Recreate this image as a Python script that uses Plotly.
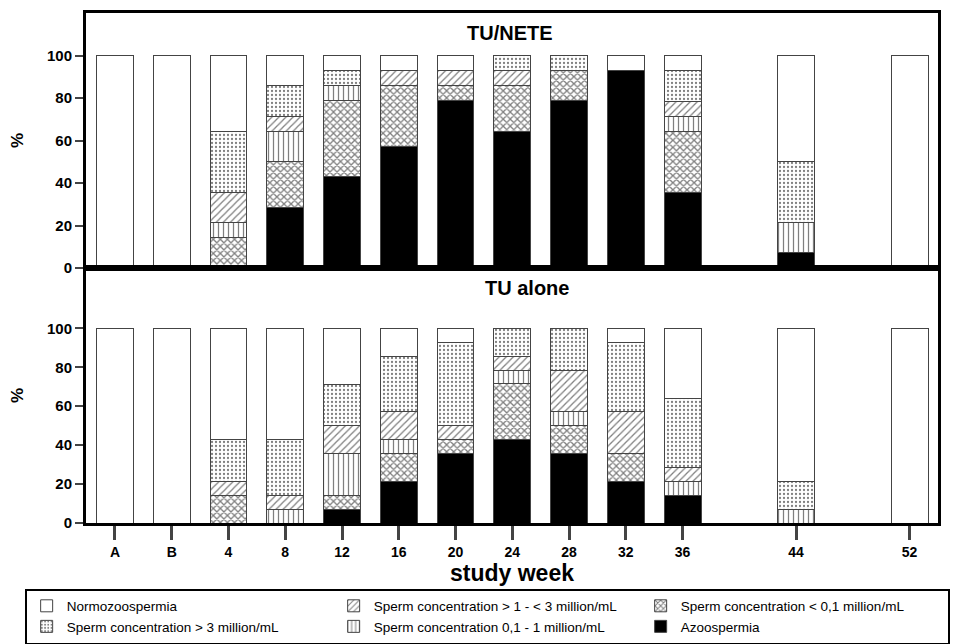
import plotly.graph_objects as go

weeks = ["A", "B", "4", "8", "12", "16", "20", "24", "28", "32", "36", "44", "52"]

# TU/NETE (%)
nete_normo = [100, 100, 35.7, 14.3, 7.1, 7.1, 7.1, 0, 0, 7.1, 7.1, 50.0, 100]
nete_gt3 = [0, 0, 28.6, 14.3, 7.1, 0, 0, 7.1, 7.1, 0, 14.3, 28.6, 0]
nete_1to3 = [0, 0, 14.3, 7.1, 0, 7.1, 7.1, 7.1, 0, 0, 7.1, 0, 0]
nete_01to1 = [0, 0, 7.1, 14.3, 7.1, 0, 0, 0, 0, 0, 7.1, 14.3, 0]
nete_lt01 = [0, 0, 14.3, 21.4, 35.7, 28.6, 7.1, 21.4, 14.3, 0, 28.6, 0, 0]
nete_azoo = [0, 0, 0, 28.6, 42.9, 57.1, 78.6, 64.3, 78.6, 92.9, 35.7, 7.1, 0]

# TU alone (%)
tu_normo = [100, 100, 57.1, 57.1, 28.6, 14.3, 7.1, 0, 0, 7.1, 35.7, 78.6, 100]
tu_gt3 = [0, 0, 21.4, 28.6, 21.4, 28.6, 42.9, 14.3, 21.4, 35.7, 35.7, 14.3, 0]
tu_1to3 = [0, 0, 7.1, 7.1, 14.3, 14.3, 7.1, 7.1, 21.4, 21.4, 7.1, 0, 0]
tu_01to1 = [0, 0, 0, 7.1, 21.4, 7.1, 0, 7.1, 7.1, 0, 7.1, 7.1, 0]
tu_lt01 = [0, 0, 14.3, 0, 7.1, 14.3, 7.1, 28.6, 14.3, 14.3, 0, 0, 0]
tu_azoo = [0, 0, 0, 0, 7.1, 21.4, 35.7, 42.9, 35.7, 21.4, 14.3, 0, 0]

names = {
    "azoo": "Azoospermia",
    "lt01": "Sperm concentration < 0,1 million/mL",
    "01to1": "Sperm concentration 0,1 - 1 million/mL",
    "1to3": "Sperm concentration > 1 - < 3 million/mL",
    "gt3": "Sperm concentration > 3 million/mL",
    "normo": "Normozoospermia",
}


def week_pos(w):
    return {"A": -4, "B": 0}[w] if w in ("A", "B") else int(w)


xpos = [week_pos(w) for w in weeks]

styles = {
    "azoo": dict(color="black", pattern=None, rank=6),
    "lt01": dict(color="white", pattern=dict(shape="x", size=5, solidity=0.45, fgcolor="black", bgcolor="white"), rank=3),
    "01to1": dict(color="white", pattern=dict(shape="|", size=5, solidity=0.25, fgcolor="black", bgcolor="white"), rank=5),
    "1to3": dict(color="white", pattern=dict(shape="/", size=5, solidity=0.25, fgcolor="black", bgcolor="white"), rank=2),
    "gt3": dict(color="white", pattern=dict(shape=".", size=4, solidity=0.25, fgcolor="black", bgcolor="white"), rank=4),
    "normo": dict(color="white", pattern=None, rank=1),
}

order = ["azoo", "lt01", "01to1", "1to3", "gt3", "normo"]
panels = [
    ("x", "y", [nete_azoo, nete_lt01, nete_01to1, nete_1to3, nete_gt3, nete_normo], True),
    ("x2", "y2", [tu_azoo, tu_lt01, tu_01to1, tu_1to3, tu_gt3, tu_normo], False),
]

fig = go.Figure()
for xax, yax, series, showleg in panels:
    for key, data in zip(order, series):
        st = styles[key]
        vals = [v if v > 0 else None for v in data]
        marker = dict(color=st["color"], line=dict(color="#444444", width=1))
        if st["pattern"]:
            marker["pattern"] = st["pattern"]
        fig.add_trace(go.Bar(
            x=xpos, y=vals, name=names[key], marker=marker, width=2.6,
            xaxis=xax, yaxis=yax, showlegend=showleg, legendrank=st["rank"],
        ))

fig.update_layout(
    barmode="stack",
    width=954, height=644,
    margin=dict(l=86, r=16, t=13, b=121, autoexpand=False),
    paper_bgcolor="white", plot_bgcolor="white",
    font=dict(family="Liberation Sans, Arial, sans-serif", color="black"),
    showlegend=True,
    legend=dict(
        orientation="h", x=-0.072, xanchor="left", y=-0.1285, yanchor="top",
        entrywidth=262, entrywidthmode="pixels",
        bordercolor="black", borderwidth=2, font=dict(size=13.5),
        traceorder="normal", tracegroupgap=0,
    ),
)

xr = [-6.04, 54.0]
ytick_font = dict(size=15, family="Liberation Sans, Arial", weight="bold")
fig.update_layout(
    xaxis=dict(domain=[0, 1], range=xr, anchor="y", showticklabels=False, ticks="",
               showline=True, linewidth=3, linecolor="black", mirror=True, showgrid=False, zeroline=False),
    yaxis=dict(domain=[0.5, 1], range=[0, 120], tickvals=[0, 20, 40, 60, 80, 100],
               ticks="outside", ticklen=8, tickwidth=2, showline=True, linewidth=3, linecolor="black",
               mirror=True, showgrid=False, zeroline=False, tickfont=ytick_font,
               title=dict(text="<b>%</b>", font=dict(size=17), standoff=20)),
    xaxis2=dict(domain=[0, 1], range=xr, anchor="y2", tickvals=xpos, ticktext=["<b>%s</b>" % w for w in weeks],
                ticks="outside", ticklen=14, tickwidth=3, showline=True, linewidth=3, linecolor="black",
                mirror=True, showgrid=False, zeroline=False,
                tickfont=dict(size=14, family="Liberation Sans, Arial", weight="bold"),
                title=dict(text="<b>study week</b>", font=dict(size=23), standoff=0)),
    yaxis2=dict(domain=[0, 0.5], range=[0, 131], tickvals=[0, 20, 40, 60, 80, 100],
                ticks="outside", ticklen=8, tickwidth=2, showline=True, linewidth=3, linecolor="black",
                mirror=True, showgrid=False, zeroline=False, tickfont=ytick_font,
                title=dict(text="<b>%</b>", font=dict(size=17), standoff=20)),
)

fig.add_annotation(text="<b>TU/NETE</b>", xref="paper", yref="paper", x=0.498, y=0.961,
                   showarrow=False, font=dict(size=20), xanchor="center", yanchor="middle")
fig.add_annotation(text="<b>TU alone</b>", xref="paper", yref="paper", x=0.518, y=0.461,
                   showarrow=False, font=dict(size=20), xanchor="center", yanchor="middle")

fig.write_html("out.html")
